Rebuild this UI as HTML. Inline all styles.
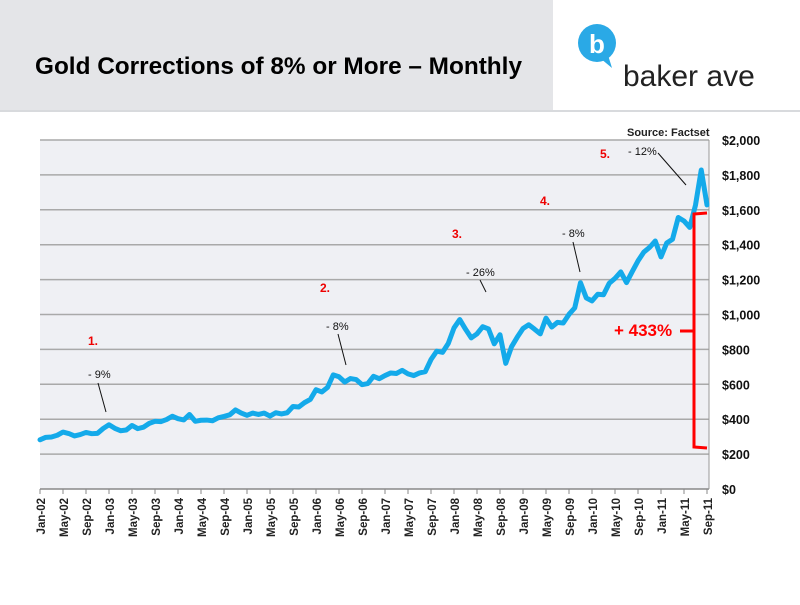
<!DOCTYPE html>
<html><head><meta charset="utf-8">
<style>
body{margin:0;width:800px;height:600px;background:#fff;overflow:hidden;font-family:"Liberation Sans",sans-serif}
</style></head>
<body>
<svg width="800" height="600" xmlns="http://www.w3.org/2000/svg" id="svg">
<rect x="0" y="0" width="553" height="110" fill="#e4e5e8"/>
<rect x="0" y="110" width="800" height="2" fill="#d8dadd"/>
<text x="35" y="74" font-size="24" font-weight="bold" fill="#000" textLength="487" lengthAdjust="spacingAndGlyphs">Gold Corrections of 8% or More – Monthly</text>
<g>
<circle cx="597" cy="43" r="19" fill="#2aa9e6"/>
<path d="M600 58 L612 68 L608 55 Z" fill="#2aa9e6"/>
<text x="597" y="53" font-size="26" font-weight="bold" fill="#fff" text-anchor="middle">b</text>
<text x="623" y="86" font-size="30" fill="#222">baker ave</text>
</g>
<rect x="40" y="140" width="669" height="349" fill="#eff0f4"/>
<g id="grid"></g>
<g id="xaxis"></g>
<g id="series"></g>
<text x="627" y="136" font-size="11" font-weight="bold" fill="#222">Source: Factset</text>
<g font-size="12" font-weight="bold" fill="#e00">
<text x="88" y="345">1.</text><text x="320" y="292">2.</text><text x="452" y="238">3.</text><text x="540" y="205">4.</text><text x="600" y="158">5.</text>
</g>
<g font-size="11" fill="#111" stroke="none">
<text x="88" y="378">- 9%</text><text x="326" y="330">- 8%</text><text x="466" y="276">- 26%</text><text x="562" y="237">- 8%</text><text x="628" y="155">- 12%</text>
</g>
<g stroke="#111" stroke-width="1">
<line x1="98" y1="383" x2="106" y2="412"/>
<line x1="338" y1="334" x2="346" y2="365"/>
<line x1="480" y1="280" x2="486" y2="292"/>
<line x1="573" y1="242" x2="580" y2="272"/>
<line x1="658" y1="153" x2="686" y2="185"/>
</g>
<g fill="none" stroke="#f00" stroke-width="3">
<path d="M707 213 L694 214 L694 447 L707 448"/>
<path d="M680 331 L694 331"/>
</g>
<text x="614" y="336" font-size="17" font-weight="bold" fill="#f00">+ 433%</text>
</svg>
<script>
const months=["Jan","Feb","Mar","Apr","May","Jun","Jul","Aug","Sep","Oct","Nov","Dec"];
const prices=[282,296,298,308,326,318,304,312,324,317,319,347,
368,348,334,338,364,346,354,376,388,386,398,417,
403,396,427,388,394,395,391,408,416,425,453,435,
422,435,427,435,418,437,430,437,473,470,495,513,
569,556,582,654,643,613,633,627,598,604,646,632,
650,665,662,680,660,650,665,672,742,790,783,834,
923,971,916,866,889,930,917,832,884,720,815,870,
920,941,916,889,979,928,955,951,1001,1038,1182,1095,
1078,1116,1113,1179,1207,1244,1183,1246,1307,1357,1384,1421,
1330,1410,1431,1556,1536,1499,1627,1828,1628];
const yTicks=[0,200,400,600,800,1000,1200,1400,1600,1800,2000];
const NS="http://www.w3.org/2000/svg";
const x=i=>40+i*(667/(prices.length-1));
const y=v=>489-v*(349/2000);
function mk(t,a,p){const e=document.createElementNS(NS,t);for(const k in a)e.setAttribute(k,a[k]);p.appendChild(e);return e;}
const grid=document.getElementById('grid');
yTicks.forEach(v=>{
 if(v>0){const l=mk('line',{x1:40,x2:709,y1:y(v),y2:y(v),stroke:'#a9a9a9','stroke-width':1.5},grid);
 
 }
 const t=mk('text',{x:722,y:y(v)+5,'font-size':12.5,'font-weight':'bold',fill:'#111'},grid);
 t.textContent='$'+v.toLocaleString('en-US');
 
 
});
const ax=document.getElementById('xaxis');
const al=mk('line',{x1:40,x2:709,y1:489,y2:489,stroke:'#888','stroke-width':1.5},ax);


const vl=mk('line',{x1:709,x2:709,y1:140,y2:489,stroke:'#999','stroke-width':1},ax);


for(let i=0;i<prices.length;i+=4){
 const xx=x(i);
 const tk=mk('line',{x1:xx,x2:xx,y1:489,y2:494,stroke:'#888'},ax);
 
 
 const lab=months[i%12]+'-'+String(2+Math.floor(i/12)).padStart(2,'0');
 const t=mk('text',{x:0,y:0,'font-size':11.5,'font-weight':'bold',fill:'#222','text-anchor':'end',transform:`translate(${xx+5},498) rotate(-90)`},ax);
 t.textContent=lab;
 
 
}
const s=document.getElementById('series');
const pl=mk('polyline',{points:prices.map((v,i)=>x(i)+','+y(v)).join(' '),fill:'none',stroke:'#14aaea','stroke-width':5,'stroke-linejoin':'round','stroke-linecap':'round'},s);


</script>
</body></html>
